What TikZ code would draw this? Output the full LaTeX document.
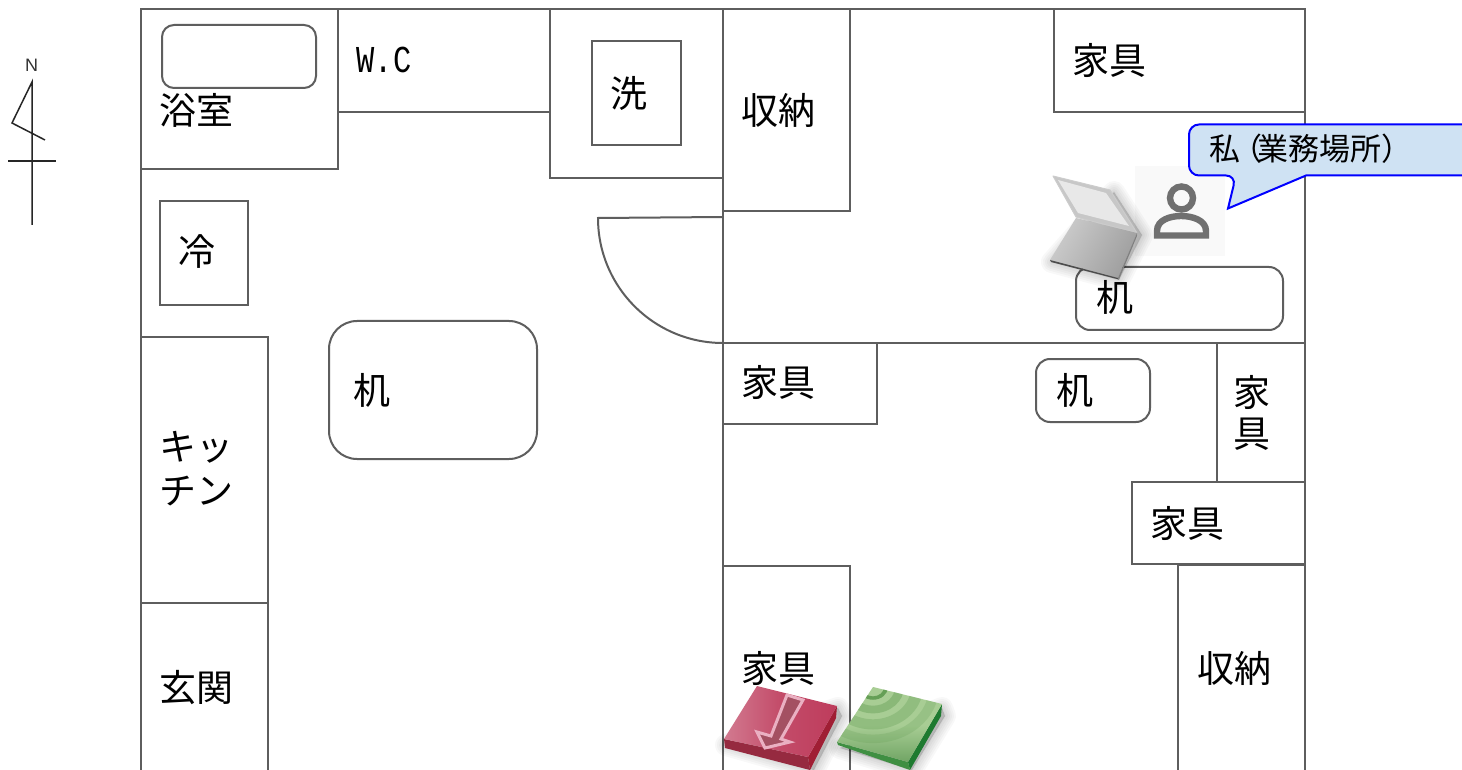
\documentclass[tikz,border=0pt]{standalone}
\usepackage{fontspec}
\setmainfont{Noto Sans CJK JP}
\newfontfamily\wcfont{Liberation Mono}
\newfontfamily\nfont{Liberation Sans}
\definecolor{wall}{HTML}{5E5E5E}
\definecolor{callfill}{HTML}{CFE2F3}
\definecolor{iconbg}{HTML}{F9F9F9}
\definecolor{icongray}{HTML}{707070}
\definecolor{redtop}{HTML}{BE3C5C}
\definecolor{redpale}{HTML}{D27A90}
\definecolor{redfront}{HTML}{962A40}
\definecolor{redside}{HTML}{A01E34}
\definecolor{arrowfill}{HTML}{A45062}
\definecolor{arrowline}{HTML}{EAB0C2}
\definecolor{gtoplight}{HTML}{A8CD94}
\definecolor{gtopdark}{HTML}{649C5A}
\definecolor{gfront}{HTML}{3F8F42}
\definecolor{gside}{HTML}{1E7A30}
\definecolor{gband}{HTML}{5E9A50}
\tikzset{
  wallline/.style={draw=wall,line width=1pt},
  lbl/.style={inner sep=0pt,font=\fontsize{18.5}{18.5}\selectfont,text=black},
  softshadow/.style={fill=black,draw=black,fill opacity=.028,draw opacity=.028,line join=round},
}
\newcommand{\softpoly}[1]{%
  \foreach \w in {1,3,5,7,9,11}{\path[softshadow,line width=\w pt] #1 -- cycle;}%
}
\begin{document}
\begin{tikzpicture}[x=0.5pt,y=-0.5pt]
\useasboundingbox (0,0) rectangle (1462,770);
\clip (0,0) rectangle (1462,770);
\fill[white] (0,0) rectangle (1462,770);
% north mark
\draw[black!85,line width=.75pt,line join=miter] (32,225) -- (32,82) -- (12,123) -- (45,140);
\draw[black!85,line width=.75pt] (8,161) -- (56,161);
\node[inner sep=0pt,font=\nfont\fontsize{9}{9}\selectfont,text=black!80] (northlabel) at (31.5,65) {N};
% walls
\draw[wallline] (141,770) -- (141,9) -- (1305,9) -- (1305,770);
\draw[wallline] (141,9) rectangle (338,169);
\draw[wallline,rounded corners=6pt] (162,25) rectangle (316,88);
\draw[wallline] (338,9) rectangle (550,112);
\draw[wallline] (550,9) rectangle (723,178);
\draw[wallline] (592,41) rectangle (681,145);
\draw[wallline] (723,9) rectangle (850,211);
\draw[wallline] (1054,9) rectangle (1305,112);
\draw[wallline] (160,201) rectangle (248,305);
\draw[wallline] (141,337) rectangle (268,603);
\draw[wallline] (141,603) -- (268,603) -- (268,770);
\draw[wallline,rounded corners=14pt] (329,321) rectangle (537,459);
\draw[wallline] (723,9) -- (723,770);
\draw[wallline] (723,343) -- (1305,343);
\draw[wallline] (723,217) -- (598,218) .. controls (598,287) and (654,343) .. (723,343);
\draw[wallline] (723,343) rectangle (877,424);
\draw[wallline,rounded corners=7pt] (1036,359) rectangle (1150,422);
\draw[wallline,rounded corners=7pt] (1076,267) rectangle (1283,330);
\draw[wallline] (1217,343) rectangle (1305,482);
\draw[wallline] (1132,482) rectangle (1305,564);
\draw[wallline] (1178,565) -- (1305,565) (1178,565) -- (1178,770);
\draw[wallline] (723,566) -- (850,566) -- (850,770);
% labels
\node[lbl] (bath) at (196,110) {浴室};
\node[lbl,font=\wcfont\fontsize{19}{19}\selectfont,xscale=.8] (wc) at (384,60) {W.C};
\node[lbl] (wash) at (629,93) {洗};
\node[lbl] (store1) at (778,110) {収納};
\node[lbl] (furn1) at (1109,60) {家具};
\node[lbl] (fridge) at (197,252) {冷};
\node[lbl] (kitch1) at (196,447) {キッ};
\node[lbl] (kitch2) at (196,491) {チン};
\node[lbl] (desk1) at (372,390) {机};
\node[lbl] (furn2) at (778,382) {家具};
\node[lbl] (desk2) at (1075,390) {机};
\node[lbl] (desk3) at (1115,297) {机};
\node[lbl] (furn3a) at (1252,392) {家};
\node[lbl] (furn3b) at (1252,434) {具};
\node[lbl] (furn4) at (1187,523) {家具};
\node[lbl] (store2) at (1234,668) {収納};
\node[lbl] (furn5) at (778,668) {家具};
\node[lbl] (entry) at (196,688) {玄関};
% person icon
\fill[iconbg] (1135,166) rectangle (1225,256);
\draw[icongray,line width=3.2pt] (1181.5,198) circle[radius=11.5];
\draw[icongray,line width=3.2pt,line join=miter] (1157,235.5) -- (1157,231) .. controls (1157,220) and (1170,216) .. (1181,216) .. controls (1192,216) and (1206,220) .. (1206,231) -- (1206,235.5) -- cycle;
% callout
\draw[blue,fill=callfill,line width=1pt,rounded corners=5pt] (1500,124.5) -- (1189,124.5) -- (1189,175.5) -- (1236,175.5) [sharp corners] -- (1228,208.5) -- (1306,175.5) -- (1500,175.5);
\node[inner sep=0pt,anchor=west,font=\fontsize{15.5}{15.5}\selectfont,text=black] (me) at (1209,149) {私\kern-4.5pt（\kern-2.5pt業務場所）};
% laptop
\softpoly{(1052,262) -- (1119,280) -- (1142,235) -- (1114,192)}
\fill[white!78!black,draw=white!80!black,line width=.5pt,line join=round] (1053,176) -- (1110,190) -- (1137,233) -- (1076,217) -- cycle;
\fill[white!91!black] (1058,180) -- (1106,193) -- (1129,226) -- (1078,213) -- cycle;
\shade[left color=white!80!black,right color=white!62!black,shading angle=60] (1076,218) -- (1137,233) -- (1118,278) -- (1050,260) -- cycle;
\fill[black!70] (1050,260) -- (1118,278) -- (1119,279.5) -- (1051,262) -- cycle;
\fill[black!50] (1118,278) -- (1137,233) -- (1137,236) -- (1119,279.5) -- cycle;
% red tile
\softpoly{(726,745) -- (814,770) -- (842,716) -- (838,708)}
\fill[redside] (837,706) -- (836,718) -- (810,770) -- (808,757) -- cycle;
\fill[redfront] (724,739) -- (808,757) -- (810,770) -- (725,748) -- cycle;
\shade[left color=redpale,right color=redtop,middle color=redtop!75!redpale] (757,686) -- (837,706) -- (808,757) -- (724,739) -- cycle;
\draw[fill=arrowfill,draw=arrowline,line width=1.5pt,line join=miter] (787,695) -- (803,700) -- (781,739) -- (790,742) -- (765,748) -- (757,732) -- (771,736) -- cycle;
% green tile
\softpoly{(840,748) -- (912,770) -- (945,716) -- (942,708)}
\fill[gside] (942,704) -- (941,716) -- (910,770) -- (908,762) -- cycle;
\fill[gfront] (837,742) -- (908,762) -- (910,770) -- (838,745) -- cycle;
\begin{scope}
\clip (873,687) -- (942,704) -- (908,762) -- (837,742) -- cycle;
\shade[top color=gtoplight,bottom color=gtopdark,middle color=gtoplight] (830,680) rectangle (945,770);
\foreach \ro/\ri/\op in {66/56/.22,50/38/.3,31/22/.4,15/11/.9}{
  \fill[gband,fill opacity=\op,even odd rule] (873,687) ellipse[x radius=\ro,y radius=\ro*.85] (873,687) ellipse[x radius=\ri,y radius=\ri*.85];
}
\end{scope}
\end{tikzpicture}
\end{document}
